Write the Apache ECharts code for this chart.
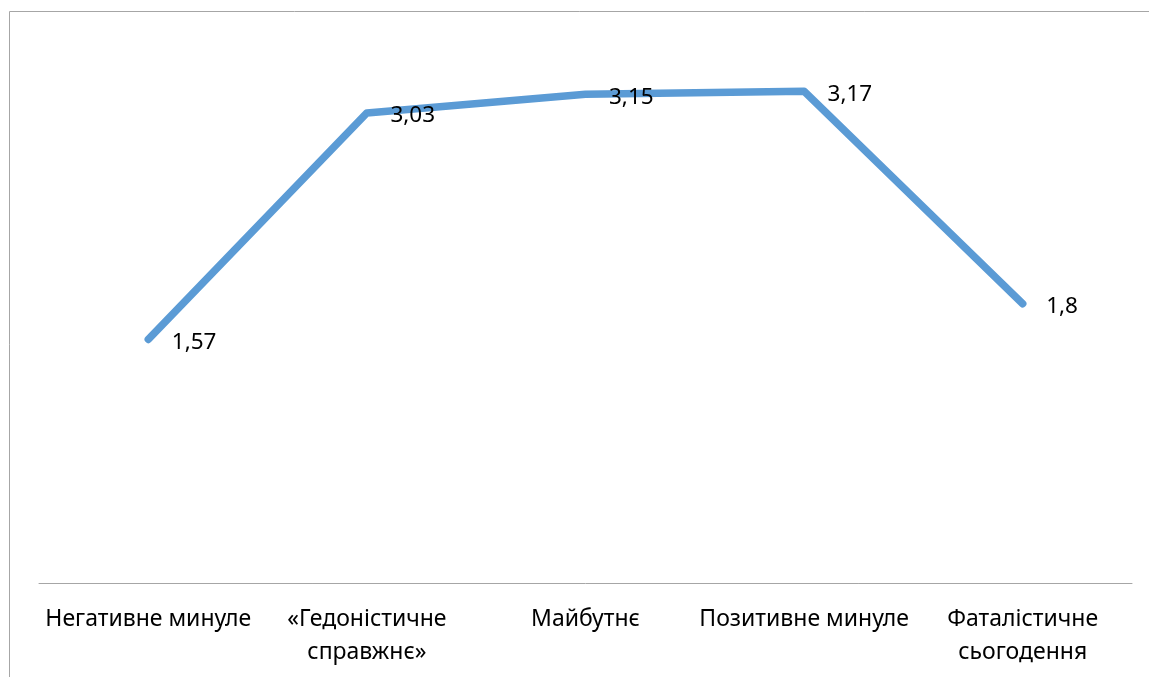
<!DOCTYPE html>
<html>
<head>
<meta charset="utf-8">
<script src="https://cdn.jsdelivr.net/npm/echarts@6/dist/echarts.min.js"></script>
<style>
  html, body { margin: 0; padding: 0; background: #fff; }
  #chart { width: 1149px; height: 677px; }
</style>
</head>
<body>
<div id="chart"></div>
<script>
// Time-perspective scale means
const categories = [
  'Негативне минуле',
  '«Гедоністичне\nсправжнє»',
  'Майбутнє',
  'Позитивне минуле',
  'Фаталістичне\nсьогодення'
];
const values = [1.57, 3.03, 3.15, 3.17, 1.8];

const FONT = 'Noto Sans';
const chart = echarts.init(document.getElementById('chart'), null, { renderer: 'canvas' });

chart.setOption({
  animation: false,
  backgroundColor: '#ffffff',
  grid: { left: 39, right: 17, top: 40, bottom: 94 },
  xAxis: {
    type: 'category',
    data: categories,
    boundaryGap: true,
    axisLine: { show: true, lineStyle: { color: '#a6a6a6', width: 1 } },
    axisTick: { show: false },
    axisLabel: {
      color: '#000',
      fontFamily: FONT,
      fontSize: 23,
      lineHeight: 33,
      margin: 20,
      interval: 0
    }
  },
  yAxis: {
    type: 'value',
    min: 0,
    max: 3.5,
    show: false,
    splitLine: { show: false }
  },
  series: [{
    type: 'line',
    data: values,
    symbol: 'circle',
    symbolSize: 1,
    showSymbol: true,
    itemStyle: { color: '#5b9bd5', borderWidth: 0 },
    lineStyle: { color: '#5b9bd5', width: 7.5, cap: 'round', join: 'round' },
    label: {
      show: true,
      position: 'right',
      distance: 22,
      offset: [1, 3],
      color: '#000',
      fontFamily: FONT,
      fontSize: 22.5,
      formatter: p => String(p.value).replace('.', ',')
    }
  }],
  graphic: [
    { type: 'line', shape: { x1: 9.5, y1: 11.5, x2: 1149, y2: 11.5 }, style: { stroke: '#a6a6a6', lineWidth: 1 } },
    { type: 'line', shape: { x1: 9.5, y1: 11.5, x2: 9.5, y2: 677 }, style: { stroke: '#a6a6a6', lineWidth: 1 } }
  ]
});
</script>
</body>
</html>
